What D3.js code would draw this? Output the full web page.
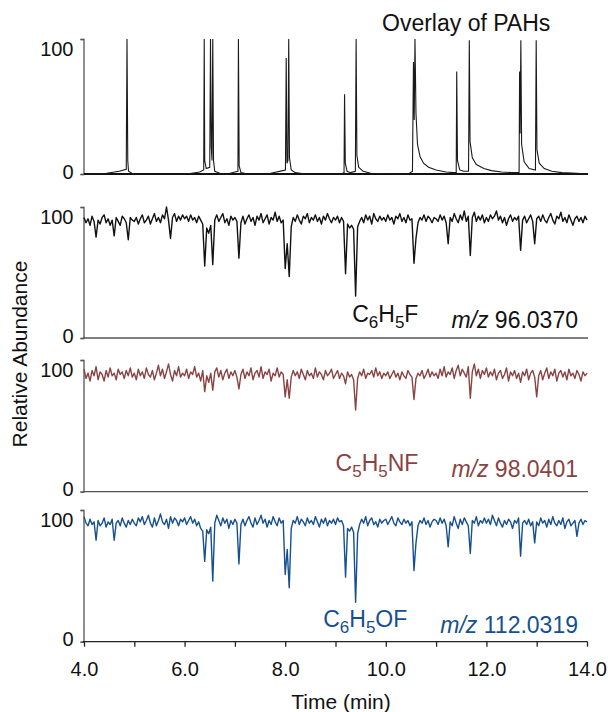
<!DOCTYPE html>
<html>
<head>
<meta charset="utf-8">
<script src="https://cdn.jsdelivr.net/npm/d3@7/dist/d3.min.js"></script>
<style>
  body { margin: 0; background: #fff; }
  text { font-family: "Liberation Sans", Arial, sans-serif; }
</style>
</head>
<body>
<script>
const svgwidth = 608;
const svgheight = 712;

// time axis
const timeDomain = [4, 14];
const timeTicks = [4, 5, 6, 7, 8, 9, 10, 11, 12, 13, 14];
const timeLabels = [4, 6, 8, 10, 12, 14];
const sampleStep = 0.04;

// overlay of PAHs: [time, relative abundance]
const pahTrace = [
  [4.00, 0], [4.45, 0.5], [4.70, 2], [4.84, 3.5], [4.855, 100], [4.87, 10], [4.885, 2], [4.95, 0.5], [5.10, 0],
  [6.05, 0], [6.30, 1.5], [6.38, 3], [6.39, 100], [6.40, 10], [6.43, 4], [6.50, 5], [6.515, 100], [6.53, 20],
  [6.545, 10], [6.56, 100], [6.575, 10], [6.60, 2], [6.70, 0.5],
  [6.85, 0], [7.00, 1.5], [7.06, 2], [7.07, 100], [7.085, 6], [7.12, 1], [7.25, 0],
  [7.65, 0], [7.95, 2.5], [8.005, 3], [8.02, 86], [8.035, 8], [8.055, 10], [8.07, 100], [8.085, 12], [8.12, 3],
  [8.20, 1], [8.40, 0],
  [9.10, 0], [9.17, 1], [9.18, 59], [9.195, 8], [9.23, 2], [9.30, 1], [9.395, 2], [9.41, 100], [9.425, 14],
  [9.46, 5], [9.55, 2], [9.70, 0.5],
  [10.45, 0], [10.53, 2], [10.55, 83], [10.565, 40], [10.58, 100], [10.60, 45], [10.63, 22], [10.68, 13],
  [10.75, 8], [10.85, 5], [11.00, 3], [11.20, 1.5], [11.35, 1],
  [11.40, 1], [11.41, 76], [11.425, 10], [11.47, 3], [11.55, 2], [11.645, 2], [11.66, 99], [11.675, 24],
  [11.72, 12], [11.80, 7], [11.95, 4], [12.10, 2.5], [12.30, 1.5], [12.50, 1],
  [12.65, 1], [12.66, 76], [12.67, 30], [12.685, 99], [12.70, 22], [12.75, 9], [12.85, 4], [12.975, 3],
  [12.99, 99], [13.005, 18], [13.05, 8], [13.15, 4], [13.30, 2], [13.50, 1], [13.80, 0.5], [14.00, 0]
];

// extracted ion traces, one value every 0.04 min from 4.00 to 14.00 (one row per minute)
const fluoroTrace = [
  92, 88, 91, 86, 93, 89, 77, 90, 87, 92, 94, 88, 91, 86, 90, 78, 92, 89, 86, 93, 91, 88, 75, 92, 90,
  89, 92, 87, 91, 94, 88, 90, 93, 87, 91, 95, 89, 92, 88, 94, 91, 100, 90, 76, 92, 95, 89, 93, 90, 94,
  91, 93, 89, 94, 90, 92, 88, 93, 90, 87, 55, 84, 80, 86, 56, 90, 94, 89, 92, 95, 88, 91, 86, 93, 90,
  92, 89, 61, 88, 93, 87, 91, 94, 89, 92, 86, 93, 90, 95, 88, 91, 94, 87, 92, 90, 96, 89, 93, 88, 90,
  53, 72, 47, 85, 92, 89, 94, 90, 87, 93, 91, 95, 88, 92, 90, 94, 89, 92, 87, 93, 90, 95, 91, 88, 92,
  90, 93, 88, 92, 89, 49, 87, 84, 86, 83, 32, 85, 89, 92, 88, 94, 90, 93, 87, 95, 91, 89, 93, 90, 92,
  89, 94, 90, 92, 87, 93, 91, 95, 89, 92, 88, 94, 90, 91, 57, 76, 88, 92, 90, 94, 89, 93, 91, 88, 92,
  91, 89, 94, 90, 93, 88, 72, 92, 89, 95, 91, 88, 94, 90, 97, 89, 93, 63, 92, 96, 89, 93, 90, 94, 88,
  92, 89, 94, 91, 93, 97, 90, 93, 88, 92, 86, 91, 94, 89, 92, 90, 93, 67, 90, 93, 88, 91, 94, 89, 72,
  91, 93, 89, 94, 90, 88, 92, 95, 90, 87, 93, 91, 96, 89, 92, 88, 94, 90, 86, 91, 93, 89, 92, 88, 93,
  90
];
const pyridineTrace = [
  93, 86, 90, 84, 92, 88, 95, 85, 91, 89, 84, 92, 87, 94, 88, 90, 85, 93, 89, 91, 86, 92, 88, 94, 87,
  90, 85, 93, 88, 91, 86, 94, 89, 87, 92, 85, 90, 96, 88, 93, 86, 91, 97, 89, 84, 92, 88, 95, 87, 90,
  88, 93, 86, 91, 89, 95, 87, 90, 84, 92, 76, 88, 83, 90, 77, 91, 94, 87, 92, 85, 90, 93, 86, 91, 88,
  92, 87, 78, 89, 93, 86, 91, 88, 94, 85, 90, 92, 87, 95, 86, 91, 89, 93, 84, 90, 88, 94, 87, 91, 89,
  72, 85, 71, 87, 92, 88, 91, 86, 93, 89, 85, 92, 88, 90, 86, 94, 87, 91, 89, 85, 92, 88, 90, 93, 86,
  89, 92, 86, 90, 88, 82, 91, 87, 89, 85, 62, 86, 91, 88, 93, 86, 90, 89, 92, 87, 94, 88, 91, 86, 90,
  88, 91, 86, 89, 92, 87, 90, 85, 91, 88, 86, 92, 89, 87, 70, 86, 90, 88, 92, 86, 89, 93, 87, 91, 88,
  90, 86, 93, 88, 95, 87, 91, 89, 94, 86, 92, 96, 88, 93, 90, 87, 95, 71, 91, 97, 88, 93, 86, 92, 89,
  94, 87, 91, 88, 93, 85, 90, 92, 86, 89, 94, 84, 91, 88, 92, 86, 90, 83, 91, 88, 93, 85, 90, 92, 87,
  72, 88, 92, 85, 90, 94, 86, 91, 88, 93, 84, 90, 92, 87, 91, 85, 93, 88, 90, 86, 92, 89, 84, 91, 88,
  90
];
const phenolTrace = [
  95, 90, 88, 93, 89, 91, 77, 92, 88, 90, 94, 87, 91, 89, 93, 77, 90, 92, 88, 94, 90, 87, 92, 89, 93,
  90, 88, 94, 91, 95, 89, 92, 96, 90, 87, 94, 88, 92, 97, 91, 89, 93, 86, 95, 90, 94, 92, 88, 93, 91,
  94, 89, 92, 95, 90, 93, 88, 91, 86, 84, 61, 85, 82, 87, 46, 90, 96, 92, 88, 94, 90, 93, 86, 92, 89,
  93, 90, 59, 89, 93, 88, 92, 95, 90, 87, 94, 89, 92, 96, 90, 93, 87, 92, 89, 95, 91, 88, 94, 90, 92,
  51, 70, 41, 86, 92, 90, 95, 89, 93, 91, 88, 94, 90, 92, 89, 95, 91, 87, 93, 90, 94, 88, 92, 90, 93,
  89, 94, 91, 92, 88, 49, 86, 84, 87, 83, 30, 82, 89, 93, 90, 95, 88, 92, 94, 89, 91, 87, 93, 90, 92,
  93, 89, 92, 95, 90, 88, 94, 91, 89, 93, 90, 92, 88, 91, 54, 75, 88, 92, 90, 94, 89, 92, 87, 91, 93,
  92, 89, 94, 90, 93, 88, 72, 91, 88, 95, 90, 86, 93, 89, 94, 91, 88, 67, 92, 90, 95, 88, 92, 90, 94,
  90, 93, 89, 96, 92, 88, 94, 90, 87, 92, 89, 93, 91, 86, 92, 90, 94, 65, 90, 92, 89, 93, 88, 91, 75,
  91, 88, 94, 90, 92, 87, 93, 89, 95, 90, 88, 92, 89, 94, 86, 91, 93, 88, 90, 92, 80, 90, 93, 89, 92,
  91
];

// panel labels
const formulas = ["C6H5F", "C5H5NF", "C6H5OF"];
const mzValues = ["96.0370", "98.0401", "112.0319"];
const yTickValues = [0, 100];

const traceColors = ["#111111", "#8a4343", "#16508f"];

// vertical layout of the four panels
const panels = [
  { top: 39, bottom: 174 },
  { top: 207, bottom: 338, labelY: 328 },
  { top: 360, bottom: 491.7, labelY: 477 },
  { top: 510, bottom: 641.7, labelY: 633 }
];

const svg = d3.select("body")
  .append("svg")
  .attr("width", svgwidth)
  .attr("height", svgheight);

const xScale = d3.scaleLinear().domain(timeDomain).range([84, 587]);

function drawYAxis(yScale) {
  const g = svg.append("g")
    .attr("transform", "translate(83.5,0)")
    .call(d3.axisLeft(yScale).tickValues(yTickValues).tickSize(3).tickPadding(7).tickFormat(d3.format("d")));
  g.select(".domain").attr("stroke", "#555").attr("stroke-width", 1.3);
  g.selectAll(".tick line").attr("stroke", "#555").attr("stroke-width", 1.3);
  g.selectAll(".tick text")
    .attr("fill", "#111")
    .attr("font-size", 20)
    .attr("font-family", "'Liberation Sans', Arial, sans-serif")
    .attr("dy", d => (d === 100 ? 16 : 4));
}

//panel 1: overlay of PAHs
const y1 = d3.scaleLinear().domain([0, 100]).range([panels[0].bottom, panels[0].top]);
drawYAxis(y1);

svg.append("line")
  .attr("x1", 84).attr("x2", 588)
  .attr("y1", y1(0)).attr("y2", y1(0))
  .attr("stroke", "#111").attr("stroke-width", 1.8);

svg.append("path")
  .datum(pahTrace)
  .attr("fill", "none")
  .attr("stroke", "#1a1a1a")
  .attr("stroke-width", 1.1)
  .attr("d", d3.line().x(d => xScale(d[0])).y(d => y1(d[1])));

svg.append("text")
  .attr("x", 382).attr("y", 31)
  .attr("font-size", 23)
  .attr("fill", "#111")
  .text("Overlay of PAHs");

//panels 2-4: extracted ion traces
const traces = [fluoroTrace, pyridineTrace, phenolTrace];

traces.forEach((values, k) => {
  const p = panels[k + 1];
  const y = d3.scaleLinear().domain([0, 100]).range([p.bottom, p.top]);
  drawYAxis(y);

  if (k < 2) {
    svg.append("line")
      .attr("x1", 83).attr("x2", 588)
      .attr("y1", y(0)).attr("y2", y(0))
      .attr("stroke", "#555").attr("stroke-width", 1.3);
  }

  svg.append("path")
    .datum(values)
    .attr("fill", "none")
    .attr("stroke", traceColors[k])
    .attr("stroke-width", 1.4)
    .attr("stroke-linejoin", "round")
    .attr("d", d3.line()
      .x((d, i) => xScale(timeDomain[0] + i * sampleStep))
      .y(d => y(d)));

  // m/z label, right aligned
  const mz = svg.append("text")
    .attr("x", 578).attr("y", p.labelY)
    .attr("text-anchor", "end")
    .attr("font-size", 23)
    .attr("fill", traceColors[k]);
  mz.append("tspan").attr("font-style", "italic").text("m/z");
  mz.append("tspan").text(" " + mzValues[k]);
  const mzStart = mz.node().getBBox().x;

  // formula with subscripted digits
  const f = svg.append("text")
    .attr("x", mzStart - 33).attr("y", p.labelY)
    .attr("text-anchor", "end")
    .attr("font-size", 23)
    .attr("fill", traceColors[k]);
  formulas[k].match(/[A-Z]+|\d+/g).forEach(part => {
    if (/\d/.test(part)) {
      f.append("tspan").attr("font-size", 17).attr("dy", 6).text(part);
    } else {
      f.append("tspan").attr("dy", f.selectAll("tspan").size() ? -6 : 0).text(part);
    }
  });
});

//x axis under the last panel
const xAxis = d3.axisBottom(xScale)
  .tickValues(timeTicks)
  .tickSize(5)
  .tickPadding(15)
  .tickFormat(d => (timeLabels.includes(d) ? d3.format(".1f")(d) : ""));

const xg = svg.append("g")
  .attr("transform", "translate(0," + panels[3].bottom + ")")
  .call(xAxis);
xg.select(".domain").attr("stroke", "#222").attr("stroke-width", 1.3).attr("d", "M83,0H587.5");
xg.selectAll(".tick line").attr("stroke", "#222").attr("stroke-width", 1.3);
xg.selectAll(".tick text")
  .attr("fill", "#111")
  .attr("font-size", 20)
  .attr("font-family", "'Liberation Sans', Arial, sans-serif");

svg.append("text")
  .attr("x", 341).attr("y", 709)
  .attr("text-anchor", "middle")
  .attr("font-size", 21)
  .attr("fill", "#111")
  .text("Time (min)");

svg.append("text")
  .attr("transform", "translate(27,354) rotate(-90)")
  .attr("text-anchor", "middle")
  .attr("font-size", 21)
  .attr("fill", "#111")
  .text("Relative Abundance");
</script>
</body>
</html>
